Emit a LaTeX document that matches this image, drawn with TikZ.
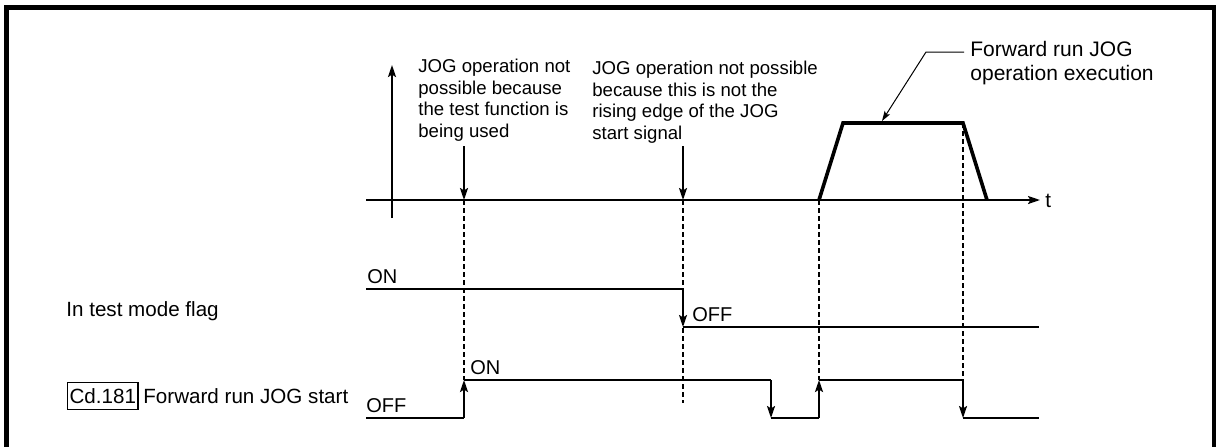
\documentclass[tikz,border=0pt]{standalone}
\usepackage{fontspec}
\setmainfont{Liberation Sans}
\usetikzlibrary{arrows.meta}

\begin{document}
\begin{tikzpicture}[
    x=0.5pt, y=-0.5pt,
    note/.style={anchor=north west, inner sep=0pt, align=left, font=\fontsize{9.3}{10.75}\selectfont},
    bignote/.style={anchor=north west, inner sep=0pt, align=left, font=\fontsize{10.5}{12}\selectfont},
    lbl/.style={anchor=base west, inner sep=0pt, font=\fontsize{10.3}{12}\selectfont},
    level/.style={anchor=base west, inner sep=0pt, font=\fontsize{10}{12}\selectfont},
    sig/.style={line width=1pt},
    guide/.style={line width=0.6pt, dash pattern=on 2.5pt off 1.5pt},
    >={Stealth[length=6pt,width=4pt,inset=1.2pt]}
]
  \useasboundingbox (0,0) rectangle (1216,446);
  % frame
  \draw[line width=2.5pt] (6.5,470) -- (6.5,7.5) -- (1214.5,7.5) -- (1214.5,470);

  % axes
  \coordinate (vbot) at (392,218);
  \coordinate (vtop) at (392,65);
  \coordinate (tstart) at (366,200);
  \coordinate (tend) at (1040,200);
  \draw[->, line width=1pt] (vbot) -- (vtop);
  \draw[->, line width=1pt] (tstart) -- (tend);
  \node[lbl] (tlabel) at (1045,207) {t};

  % speed profile
  \coordinate (r0) at (819,200);
  \coordinate (r1) at (843,123);
  \coordinate (r2) at (963,123);
  \coordinate (r3) at (987,200);
  \draw[line width=1.8pt] (r0) -- (r1) -- (r2) -- (r3);

  % notes
  \node[note] (note1) at (418,59) {JOG operation not\\possible because\\the test function is\\being used};
  \node[note] (note2) at (592,61) {JOG operation not possible\\because this is not the\\rising edge of the JOG\\start signal};
  \node[bignote] (execnote) at (970,41) {Forward run JOG\\operation execution};

  \coordinate (n1) at (464,146);
  \coordinate (x1) at (464,200);
  \coordinate (n2) at (683,146);
  \coordinate (x2) at (683,200);
  \draw[->, line width=1pt] (n1) -- (x1);
  \draw[->, line width=1pt] (n2) -- (x2);

  \coordinate (lead) at (964,52);
  \coordinate (bend) at (926,52);
  \coordinate (runtop) at (882,121);
  \draw[-{Stealth[length=5pt,width=3.2pt,inset=1pt]}, line width=0.5pt] (lead) -- (bend) -- (runtop);

  % guide lines
  \draw[guide] (x1) -- (464,380);
  \draw[guide] (x2) -- (683,403);
  \draw[guide] (r0) -- (819,380);
  \draw[guide] (r2) -- (963,380);

  % in test mode flag
  \node[lbl] (flaglbl) at (66,316) {In test mode flag};
  \node[level] (flagon) at (367,283) {ON};
  \node[level] (flagoff) at (692,321) {OFF};
  \coordinate (f0) at (366,289);
  \coordinate (f1) at (683,289);
  \coordinate (f2) at (683,327);
  \coordinate (f3) at (1039,327);
  \draw[sig] (f0) -- (f1);
  \draw[sig, ->] (f1) -- (f2);
  \draw[sig] (f2) -- (f3);

  % forward run JOG start
  \node[draw, line width=0.6pt, anchor=base west, inner xsep=1pt, inner ysep=0pt,
        minimum height=13.5pt, font=\fontsize{10.3}{12}\selectfont] (cdbox) at (67,403) {Cd.181};
  \node[lbl, anchor=base west] (startlbl) at (143,403) {Forward run JOG start};
  \node[level] (startoff) at (366,412) {OFF};
  \node[level] (starton) at (470,374) {ON};
  \coordinate (s0) at (366,418);
  \coordinate (s1) at (464,418);
  \coordinate (s2) at (464,380);
  \coordinate (s3) at (771,380);
  \coordinate (s4) at (771,418);
  \coordinate (s5) at (819,418);
  \coordinate (s6) at (819,380);
  \coordinate (s7) at (963,380);
  \coordinate (s8) at (963,418);
  \coordinate (s9) at (1039,418);
  \draw[sig] (s0) -- (s1);
  \draw[sig, ->] (s1) -- (s2);
  \draw[sig] (s2) -- (s3);
  \draw[sig, ->] (s3) -- (s4);
  \draw[sig] (s4) -- (s5);
  \draw[sig, ->] (s5) -- (s6);
  \draw[sig] (s6) -- (s7);
  \draw[sig, ->] (s7) -- (s8);
  \draw[sig] (s8) -- (s9);
\end{tikzpicture}
\end{document}
